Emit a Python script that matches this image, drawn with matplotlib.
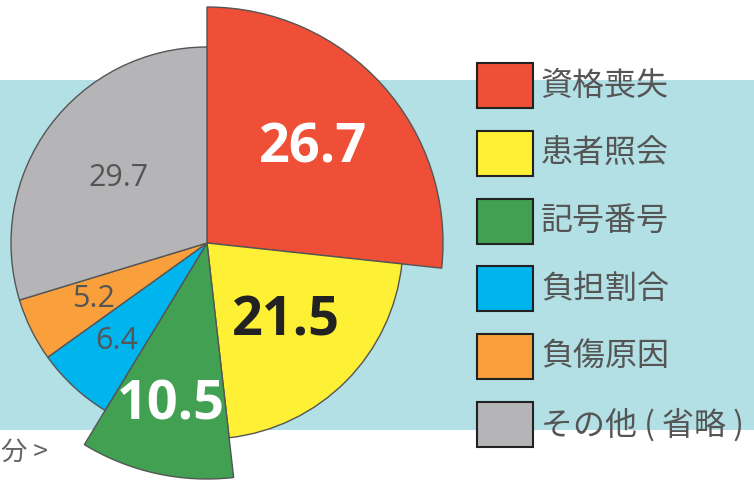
import numpy as np
import matplotlib
matplotlib.use("Agg")
import matplotlib.pyplot as plt
from matplotlib.patches import Rectangle

# データ（割合 %）
categories = ["資格喪失", "患者照会", "記号番号", "負担割合", "負傷原因", "その他 ( 省略 )"]
values = [26.7, 21.5, 10.5, 6.4, 5.2, 29.7]
value_labels = ["26.7", "21.5", "10.5", "6.4", "5.2", "29.7"]

colors = ["#ef4f37", "#fef035", "#41a052", "#00b4ee", "#f9a03c", "#b5b5b8"]
pulled = [True, False, True, False, False, False]      # 半径を大きくする項目
bold = [True, True, True, False, False, False]          # 数字を大きく表示
text_colors = ["white", "#222222", "white", "#555555", "#555555", "#555555"]
label_r = [142, 112, 166, 133, 127, 110]

plt.rcParams['font.family'] = ['Noto Sans CJK JP', 'DejaVu Sans']

fig = plt.figure(figsize=(7.54, 4.8), dpi=100)
ax = fig.add_axes([0, 0, 1, 1])

# 背景の帯
ax.axhspan(50, 400, color="#b2e0e4", zorder=0, lw=0)

cx, cy = 207, 237
base_r, big_r = 196, 236
wedges, _ = ax.pie(values, colors=colors, startangle=90, counterclock=False,
                   radius=base_r, center=(cx, cy), frame=True,
                   wedgeprops=dict(edgecolor="#555555", linewidth=1))
for w, p in zip(wedges, pulled):
    w.set_radius(big_r if p else base_r)
    w.set_zorder(2)

for w, lab, tc, r, b in zip(wedges, value_labels, text_colors, label_r, bold):
    mid = np.deg2rad((w.theta1 + w.theta2) / 2)
    x = cx + r * np.cos(mid)
    y = cy + r * np.sin(mid)
    if b:
        ax.text(x, y, lab, color=tc, fontsize=39, fontweight="bold",
                family="Open Sans", ha="center", va="center", zorder=3)
    else:
        ax.text(x, y, lab, color=tc, fontsize=22,
                family="Open Sans", ha="center", va="center", zorder=3)

# 凡例
for i, (lab, col) in enumerate(zip(categories, colors)):
    yc = 480 - (85.5 + i * 67.8)
    ax.add_patch(Rectangle((477, yc - 22.5), 56, 45, facecolor=col,
                           edgecolor="#222222", linewidth=1.5, zorder=3))
    ax.text(541, yc, lab, color="#555555", fontsize=23, ha="left",
            va="center", zorder=3)

ax.text(48, 28, "分 >", color="#666666", fontsize=19, ha="right", va="center")

ax.set_xlim(0, 754)
ax.set_ylim(0, 480)
ax.set_aspect("equal")
ax.axis("off")

fig.savefig("out.png", dpi=100)
